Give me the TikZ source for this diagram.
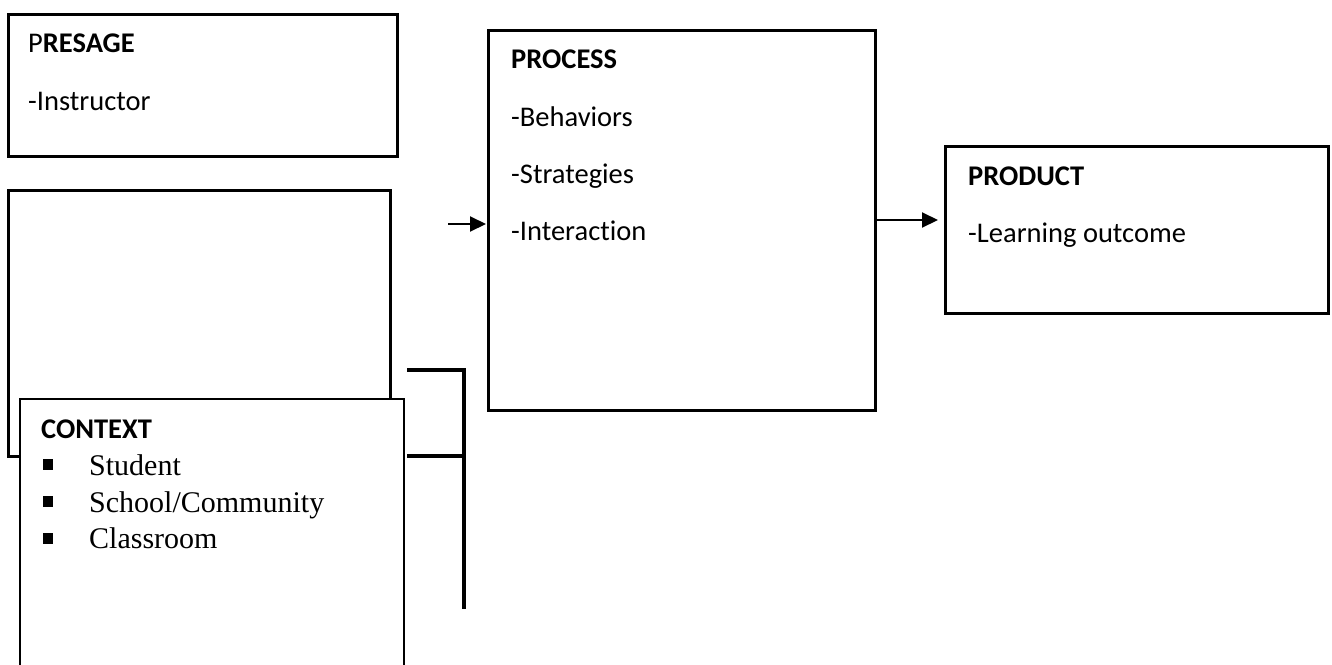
\documentclass[tikz,border=0pt]{standalone}
\usepackage{fontspec}
\setmainfont{Carlito}[Ligatures=NoCommon]
\newfontfamily\timesfont{Liberation Serif}
\usetikzlibrary{arrows.meta}

\begin{document}
\begin{tikzpicture}[x=1pt, y=-1pt,
    bigbox/.style={draw, line width=3pt, fill=white, anchor=north west, inner sep=0pt, outer sep=0pt},
    thinbox/.style={draw, line width=1.5pt, fill=white, anchor=north west, inner sep=0pt, outer sep=0pt},
    label/.style={anchor=base west, inner sep=0pt, font=\fontsize{28.5}{34}\selectfont},
    item/.style={anchor=base west, inner sep=0pt, font=\timesfont\fontsize{30}{36}\selectfont},
    square/.style={fill=black, inner sep=0pt, minimum width=10pt, minimum height=11pt},
    flow/.style={-{Triangle[length=16pt, width=15pt]}, line width=2pt},
    bracket/.style={line width=4pt}]
            \useasboundingbox (0,0) rectangle (1332,664);

            % Boxes
            \node[bigbox, minimum width=389pt, minimum height=142pt] (presage) at (8,14) {};
            \node[bigbox, minimum width=382pt, minimum height=266pt] (blank) at (8,190) {};
            \node[thinbox, minimum width=384pt, minimum height=280pt] (context) at (20,399) {};
            \node[bigbox, minimum width=387pt, minimum height=380pt] (process) at (488,30) {};
            \node[bigbox, minimum width=383pt, minimum height=167pt] (product) at (945,146) {};

            % Presage text
            \node[label] (presage-title) at (28,52) {P\textbf{RESAGE}};
            \node[label] (presage-1) at (28,110) {-Instructor};

            % Context text
            \node[label] (context-title) at (41,438) {\textbf{CONTEXT}};
            \node[square] (bul-1) at (48,464) {};
            \node[square] (bul-2) at (48,501) {};
            \node[square] (bul-3) at (48,538) {};
            \node[item] (context-1) at (89,475) {Student};
            \node[item] (context-2) at (89,512) {School/Community};
            \node[item] (context-3) at (89,548) {Classroom};

            % Process text
            \node[label] (process-title) at (511,68) {\textbf{PROCESS}};
            \node[label] (process-1) at (511,126) {-Behaviors};
            \node[label] (process-2) at (511,183) {-Strategies};
            \node[label] (process-3) at (511,240) {-Interaction};

            % Product text
            \node[label] (product-title) at (968,185) {\textbf{PRODUCT}};
            \node[label] (product-1) at (968,242) {-Learning outcome};

            % Bracket
            \coordinate (br-a) at (407,370);
            \coordinate (br-b) at (464,370);
            \coordinate (br-c) at (464,609);
            \coordinate (br-d) at (407,456);
            \coordinate (br-e) at (464,456);
            \draw[bracket] (br-a) -- (br-b) -- (br-c);
            \draw[bracket] (br-d) -- (br-e);

            % Arrows
            \coordinate (in-start) at (448,224);
            \draw[flow, shorten >=2pt] (in-start) -- (in-start -| process.west);
            \draw[flow, shorten >=7pt] (process.east) -- (process.east -| product.west);
        \end{tikzpicture}
\end{document}
